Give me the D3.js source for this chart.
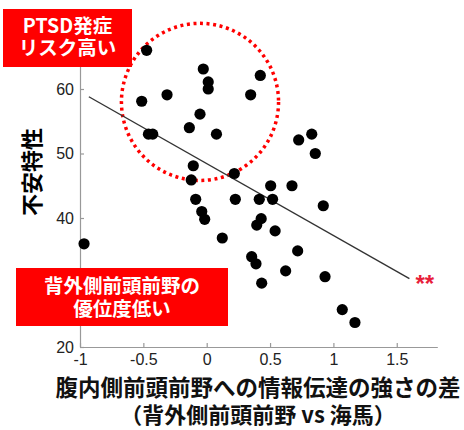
<!DOCTYPE html>
<html>
<head>
<meta charset="utf-8">
<script src="https://cdn.jsdelivr.net/npm/d3@7/dist/d3.min.js"></script>
<style>
  html, body { margin: 0; padding: 0; background: #fff; }
  svg { display: block; }
</style>
</head>
<body>
<svg id="chart" width="464" height="430"></svg>
<script>
// Connectivity difference (x) vs. trait anxiety (y), one point per participant
const connX = [-0.474, -0.027, 0.423, 0.012, 0.012, -0.313, 0.347, -0.513, -0.053, -0.137,
               -0.46, -0.426, 0.077, 0.726, 0.829, 0.857, -0.106, 0.218, -0.122, 0.505,
               0.673, -0.087, 0.226, 0.415, 0.52, 0.92, -0.039, -0.016, 0.43, 0.395,
               0.54, 0.123, -0.968, 0.718, 0.355, 0.389, 0.623, 0.934, 0.434, 1.07, 1.17];
const anxietyY = [66.0, 63.1, 62.1, 61.1, 60.0, 59.1, 59.1, 58.1, 56.1, 54.0,
                  53.0, 53.0, 53.0, 52.1, 53.0, 50.0, 48.1, 46.9, 45.9, 45.0,
                  45.0, 42.9, 42.9, 42.9, 42.9, 41.9, 41.0, 39.8, 39.9, 38.9,
                  38.0, 36.9, 36.0, 34.9, 34.0, 32.9, 31.8, 30.9, 29.9, 25.8, 23.8];

// Fitted regression line end points
const fitX = [-0.93, 1.6];
const fitY = [58.8, 30.6];

// Axis ticks (the 30 tick sits under the lower callout)
const xTicks = [-1, -0.5, 0, 0.5, 1, 1.5];
const xTickLabels = ["-1", "-0.5", "0", "0.5", "1", "1.5"];
const yTicks = [20, 40, 50, 60];
const yTickLabels = ["20", "40", "50", "60"];

// Text
const yTitle = "不安特性";
const xTitle1 = "腹内側前頭前野への情報伝達の強さの差";
const xTitle2 = "（背外側前頭前野 vs 海馬）";
const highRiskLines = ["PTSD発症", "リスク高い"];
const lowDomLines = ["背外側前頭前野の", "優位度低い"];
const sigMark = "**";

// Highlighted high-risk group (centre in data units, radius in x units)
const groupCentre = [-0.053, 58.0];
const groupRadiusX = 0.62;

const svg = d3.select("#chart");
const x = d3.scaleLinear().domain([-1, 1.82]).range([80, 437.3]);
const y = d3.scaleLinear().domain([20, 70]).range([347, 24.5]);

const numFont = "'Liberation Sans', Arial, Helvetica, sans-serif";
const cjkFont = "'Noto Sans CJK JP', 'Noto Sans', sans-serif";
const red = "#ff0000";

// Axes with inward ticks
const xAxis = svg.append("g").attr("transform", `translate(0,${y(20)})`)
  .call(d3.axisBottom(x).tickValues(xTicks).tickSizeInner(-4).tickSizeOuter(0)
        .tickPadding(8).tickFormat((d, i) => xTickLabels[i]));
const yAxis = svg.append("g").attr("transform", `translate(${x(-1)},0)`)
  .call(d3.axisLeft(y).tickValues(yTicks).tickSizeInner(-4).tickSizeOuter(0)
        .tickPadding(6).tickFormat((d, i) => yTickLabels[i]));
[xAxis, yAxis].forEach(g => {
  g.select(".domain").attr("stroke", "#999").attr("stroke-width", 1.2);
  g.selectAll(".tick line").attr("stroke", "#999").attr("stroke-width", 1.2);
  g.selectAll(".tick text").attr("fill", "#222").attr("font-family", numFont).attr("font-size", 16);
});
xAxis.selectAll(".tick text").attr("dy", "0.71em").attr("y", 7);

// Dotted circle around the high-risk group
const cR = x(groupCentre[0] + groupRadiusX) - x(groupCentre[0]);
svg.append("circle")
  .attr("cx", x(groupCentre[0])).attr("cy", y(groupCentre[1])).attr("r", cR)
  .attr("fill", "none").attr("stroke", red).attr("stroke-width", 3.5)
  .attr("stroke-dasharray", "3 3.6");

// Regression line
svg.append("line")
  .attr("x1", x(fitX[0])).attr("y1", y(fitY[0]))
  .attr("x2", x(fitX[1])).attr("y2", y(fitY[1]))
  .attr("stroke", "#333").attr("stroke-width", 1.4);

// Participants
svg.append("g").selectAll("circle")
  .data(connX.map((v, i) => [v, anxietyY[i]]))
  .join("circle")
  .attr("cx", d => x(d[0])).attr("cy", d => y(d[1])).attr("r", 5.6)
  .attr("fill", "#000");

// Significance mark at the end of the fit
svg.append("text")
  .attr("x", x(fitX[1]) + 6).attr("y", y(fitY[1]) + 13)
  .attr("fill", "#e8203a").attr("font-family", numFont).attr("font-weight", "bold")
  .attr("font-size", 24).text(sigMark);

// Red callout boxes
function callout(bx, by, bw, bh, lines, size, lineGap, firstBase) {
  svg.append("rect").attr("x", bx).attr("y", by).attr("width", bw).attr("height", bh)
    .attr("fill", red);
  lines.forEach((t, i) => {
    svg.append("text")
      .attr("x", bx + bw / 2).attr("y", by + firstBase + i * lineGap)
      .attr("text-anchor", "middle").attr("fill", "#fff")
      .attr("font-family", cjkFont).attr("font-weight", "bold").attr("font-size", size)
      .text(t);
  });
}
callout(3, 9, 129, 58, highRiskLines, 19.5, 22, 24);
callout(16, 268, 212, 58, lowDomLines, 19.5, 23, 25);

// Axis titles
svg.append("text")
  .attr("transform", `translate(40,172) rotate(-90)`)
  .attr("text-anchor", "middle").attr("fill", "#000")
  .attr("font-family", cjkFont).attr("font-weight", "bold").attr("font-size", 22)
  .text(yTitle);
svg.append("text")
  .attr("x", 258).attr("y", 396).attr("text-anchor", "middle").attr("fill", "#111")
  .attr("font-family", cjkFont).attr("font-weight", "bold").attr("font-size", 22.5)
  .text(xTitle1);
svg.append("text")
  .attr("x", 258).attr("y", 423).attr("text-anchor", "middle").attr("fill", "#111")
  .attr("font-family", cjkFont).attr("font-weight", "bold").attr("font-size", 22)
  .text(xTitle2);
</script>
</body>
</html>
